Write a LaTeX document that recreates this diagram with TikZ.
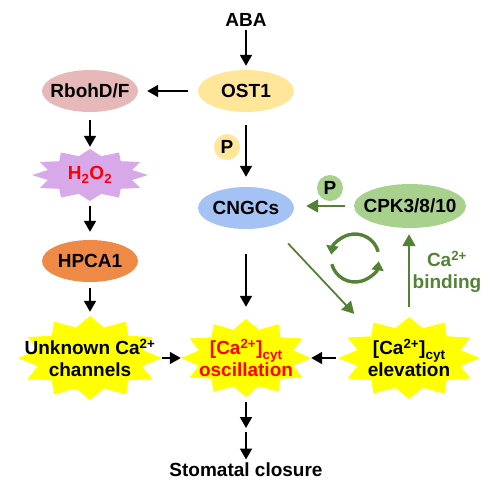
\documentclass[tikz,border=0pt]{standalone}
\usepackage{fontspec}
\setmainfont{Liberation Sans}
\usepackage{tikz}
\usetikzlibrary{shapes.geometric, arrows.meta, positioning, calc, backgrounds}
\definecolor{OstYellow}{HTML}{FFE699}
\definecolor{RbohPink}{HTML}{E6B9B8}
\definecolor{PeroxLilac}{HTML}{D8A9E8}
\definecolor{HpcaOrange}{HTML}{EE8A45}
\definecolor{CngcBlue}{HTML}{A4C2F4}
\definecolor{CpkGreen}{HTML}{A9D18E}
\definecolor{LoopGreen}{HTML}{548235}
\definecolor{BurstYellow}{HTML}{FFFF00}
\definecolor{SignalRed}{HTML}{FF0000}
\newcommand{\catwo}{Ca\textsuperscript{2+}}
\newcommand{\cyt}{\raisebox{-0.45ex}{\fontsize{13.5}{13.5}\selectfont cyt}}
\tikzset{
  % Box styles
  labeltext/.style={font=\fontsize{19}{22}\selectfont\bfseries, align=center},
  ovalbox/.style={ellipse, labeltext, minimum width=96pt, minimum height=42pt, inner xsep=-9pt, inner ysep=0pt},
  pbox/.style={circle, labeltext, minimum size=26pt, inner sep=0pt},
  burst/.style 2 args={rectangle, labeltext, minimum width=2*#1, minimum height=2*#2, inner sep=0pt},
  % Arrow styles
  arrow/.style={-{Triangle[length=11pt,width=12pt]}, line width=1.8pt, black},
  greenarrow/.style={-{Triangle[length=12pt,width=13pt]}, line width=1.8pt, LoopGreen},
  looparrow/.style={-{Triangle[length=9pt,width=12pt]}, line width=3.4pt, LoopGreen}
}
\begin{document}
\begin{tikzpicture}[x=1pt, y=-1pt]
  \useasboundingbox (0,0) rectangle (500,493);

  % ABA branch
  \node[labeltext] (aba) at (246,20) {ABA};
  \node[ovalbox, fill=OstYellow] (ost) at (246,91) {OST1};
  \node[ovalbox, fill=RbohPink] (rboh) at (90,91) {RbohD/F};
  \node[burst={58pt}{26pt}, text=SignalRed] (perox) at (90,175) {H\textsubscript{2}O\textsubscript{2}};
  \node[ovalbox, fill=HpcaOrange] (hpca) at (90,261) {HPCA1};
  \node[ovalbox, fill=CngcBlue] (cngc) at (246,208) {CNGCs};
  \node[ovalbox, fill=CpkGreen, minimum width=112pt, minimum height=44pt] (cpk) at (410,206) {CPK3/8/10};
  \node[pbox, fill=OstYellow] (pyel) at (227,147) {P};
  \node[pbox, fill=CpkGreen] (pgrn) at (330,188) {P};

  % Ca2+ signals
  \node[burst={72pt}{42pt}] (unk) at (90,358) {Unknown \catwo\\channels};
  \node[burst={65pt}{39pt}, text=SignalRed] (osc) at (246,358) {[\catwo]\cyt\\oscillation};
  \node[burst={71pt}{41pt}] (elev) at (409,358) {[\catwo]\cyt\\elevation};
  \node[labeltext, text=LoopGreen] (bind) at (447,272) {\catwo\\binding};
  \node[labeltext] (stoma) at (246,470) {Stomatal closure};
  \coordinate (relay) at (246,430);
  \coordinate (loop) at (355,258);

  % star outlines behind the texts
  \begin{scope}[on background layer]
    \foreach \n/\rx/\ry/\col in {perox/58/26/PeroxLilac, unk/72/42/BurstYellow, osc/65/39/BurstYellow, elev/71/41/BurstYellow}
      \fill[\col, shift={(\n)}] (\rx,0) \foreach \k in {0,...,11}{
        -- ({0.75*\rx*cos(\k*30+15)},{0.75*\ry*sin(\k*30+15)}) -- ({\rx*cos(\k*30+30)},{\ry*sin(\k*30+30)})} -- cycle;
  \end{scope}

  % black arrows
  \draw[arrow, shorten >=4pt] (aba) -- (ost);
  \draw[arrow, shorten <=10pt, shorten >=9pt] (ost) -- (rboh);
  \draw[arrow, shorten <=13pt, shorten >=10pt] (ost) -- (cngc);
  \draw[arrow, shorten <=8pt, shorten >=2pt] (rboh) -- (perox);
  \draw[arrow, shorten <=5pt, shorten >=8pt] (perox) -- (hpca);
  \draw[arrow, shorten <=6pt, shorten >=4pt] (hpca) -- (unk);
  \draw[arrow] (unk) -- (osc);
  \draw[arrow, shorten <=2pt] (elev) -- (osc);
  \draw[arrow, shorten <=25pt, shorten >=12pt] (cngc) -- (osc);
  \draw[arrow, shorten <=5pt, shorten >=2pt] (osc) -- (relay);
  \draw[arrow, shorten <=2pt] (relay) -- (stoma);

  % green feedback loop
  \draw[greenarrow, shorten <=9pt, shorten >=12pt] (cpk.west) -- (cpk.west -| cngc.east);
  \draw[greenarrow, shorten <=10pt, shorten >=6pt] (elev.north) -- (elev.north |- cpk.south);
  \draw[greenarrow, shorten <=24pt, shorten >=4pt] (cngc.-35) -- ($(elev.north west)!0.27!(elev.north)$);
  \draw[looparrow] (loop) ++(15:24pt) arc[start angle=15, end angle=172, radius=24pt];
  \draw[looparrow] (loop) ++(195:24pt) arc[start angle=195, end angle=352, radius=24pt];
\end{tikzpicture}
\end{document}
